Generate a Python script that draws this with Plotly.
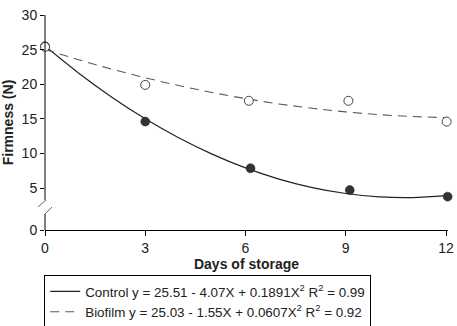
import plotly.graph_objects as go

# ---- data ----
days = [0, 3, 6, 9, 12]
control_days = [0, 3.0, 6.15, 9.12, 12.05]
control_firmness = [25.5, 14.6, 7.85, 4.7, 3.75]
biofilm_days = [0, 3.0, 6.1, 9.08, 12.02]
biofilm_firmness = [25.4, 19.9, 17.6, 17.6, 14.6]

curve_days = [0, 1, 2, 3, 4, 5, 6, 7, 8, 9, 10, 11, 12]
control_curve = [25.51, 21.63, 18.13, 15.0, 12.26, 9.89, 7.9, 6.29, 5.05, 4.2, 3.72, 3.62, 3.9]
biofilm_curve = [25.03, 23.54, 22.17, 20.93, 19.8, 18.8, 17.92, 17.15, 16.52, 16.0, 15.6, 15.33, 15.17]

y_tickvals = [-1.07, 5, 10, 15, 20, 25, 30]
y_ticktext = ["0", "5", "10", "15", "20", "25", "30"]
x_ticks = [0, 3, 6, 9, 12]

control_label = "Control y = 25.51 - 4.07X + 0.1891X<sup>2</sup> R<sup>2</sup> = 0.99"
biofilm_label = "Biofilm y = 25.03 - 1.55X + 0.0607X<sup>2</sup> R<sup>2</sup> = 0.92"

FONT = "Liberation Sans Narrow, Arial Narrow, Liberation Sans, Arial, sans-serif"

fig = go.Figure()

fig.add_trace(go.Scatter(
    x=curve_days, y=control_curve, mode="lines", line_shape="spline",
    line=dict(color="#222222", width=1.2), name=control_label, cliponaxis=False))
fig.add_trace(go.Scatter(
    x=curve_days, y=biofilm_curve, mode="lines", line_shape="spline",
    line=dict(color="#5a5a5a", width=1.1, dash="9px,6px"), name=biofilm_label, cliponaxis=False))
fig.add_trace(go.Scatter(
    x=control_days, y=control_firmness, mode="markers", showlegend=False,
    marker=dict(size=9, color="#333333", line=dict(color="#222222", width=0.5)), cliponaxis=False))
fig.add_trace(go.Scatter(
    x=biofilm_days, y=biofilm_firmness, mode="markers", showlegend=False,
    marker=dict(size=9, color="white", line=dict(color="#444444", width=1)), cliponaxis=False))

# broken y-axis line and break marks (decoration)
shapes = [
    dict(type="line", xref="paper", yref="y", x0=0, x1=0, y0=30, y1=3.27,
         line=dict(color="black", width=1)),
    dict(type="line", xref="paper", yref="y", x0=0, x1=0, y0=1.24, y1=-1.07,
         line=dict(color="black", width=1)),
    dict(type="line", xref="paper", yref="y", x0=-0.0175, x1=0.0025, y0=2.25, y1=3.27,
         line=dict(color="#666666", width=1)),
    dict(type="line", xref="paper", yref="y", x0=-0.0025, x1=0.0175, y0=1.1, y1=2.25,
         line=dict(color="#666666", width=1)),
]

fig.update_layout(
    width=457, height=326,
    margin=dict(l=45, r=9, t=15, b=96, autoexpand=False),
    paper_bgcolor="white", plot_bgcolor="white",
    font=dict(family=FONT, size=14, color="#222222"),
    showlegend=True,
    legend=dict(x=-0.002, y=-0.21, xanchor="left", yanchor="top",
                bordercolor="black", borderwidth=1, bgcolor="white",
                font=dict(family=FONT, size=13.4, color="#222222"),
                tracegroupgap=0, itemwidth=30),
    shapes=shapes,
    xaxis=dict(range=[0, 12.06], tickvals=x_ticks, ticks="outside", ticklen=5,
               tickcolor="black", showline=True, linecolor="black", linewidth=1,
               showgrid=False, zeroline=False, automargin=False,
               title=dict(text="<b>Days of storage</b>", standoff=2,
                          font=dict(family=FONT, size=14))),
    yaxis=dict(range=[-1.07, 30], tickvals=y_tickvals, ticktext=y_ticktext,
               ticks="outside", ticklen=4, tickcolor="black", showline=False,
               showgrid=False, zeroline=False, automargin=False,
               title=dict(text="<b>Firmness (N)</b>", standoff=6,
                          font=dict(family=FONT, size=14))),
)

fig.write_html(
    "out.html",
    config={"displayModeBar": False},
    post_script="document.body.style.margin='0';document.body.style.overflow='hidden';",
)
